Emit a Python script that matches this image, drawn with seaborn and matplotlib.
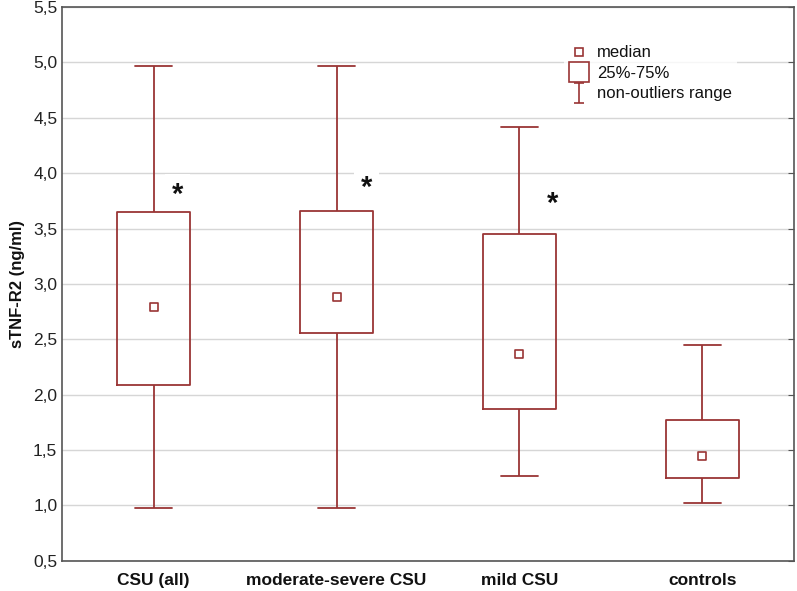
import numpy as np
import pandas as pd
import matplotlib
matplotlib.use("Agg")
import matplotlib.pyplot as plt
from matplotlib.lines import Line2D
from matplotlib.path import Path
from matplotlib.ticker import FuncFormatter, MultipleLocator
import seaborn as sns

groups = ["CSU (all)", "moderate-severe CSU", "mild CSU", "controls"]
low = [0.98, 0.98, 1.27, 1.02]
q1 = [2.09, 2.56, 1.87, 1.25]
median = [2.79, 2.88, 2.37, 1.45]
q3 = [3.65, 3.66, 3.45, 1.77]
high = [4.97, 4.97, 4.42, 2.45]
star_x = [0.13, 1.165, 2.18]
star_y = [3.80, 3.87, 3.72]

red = "#9a3535"

# five values per group -> quartiles land exactly on q1 / median / q3
rows = []
for g, a, b, c, d, e in zip(groups, low, q1, median, q3, high):
    for v in (a, b, c, d, e):
        rows.append({"group": g, "value": v})
df = pd.DataFrame(rows)

sns.set_style("white")
plt.rcParams["font.family"] = ["Liberation Sans", "DejaVu Sans"]
plt.rcParams["text.color"] = "#111111"
plt.rcParams["axes.labelcolor"] = "#111111"
plt.rcParams["xtick.labelcolor"] = "#111111"
plt.rcParams["ytick.labelcolor"] = "#222222"

fig = plt.figure(figsize=(7.97, 5.91), dpi=100)
ax = fig.add_axes([0.078, 0.051, 0.918, 0.937])

sns.boxplot(data=df, x="group", y="value", order=groups, fill=False, width=0.4,
            whis=(0, 100), color=red, linecolor=red, linewidth=1.3,
            medianprops={"visible": False}, ax=ax)
sns.scatterplot(x=groups, y=median, marker="s", s=28, color="white",
                edgecolor=red, linewidth=1.2, zorder=5, ax=ax)

# asterisks sit on a white patch that breaks the gridlines, but under the boxes
for x, y in zip(star_x, star_y):
    ax.text(x, y, "*", fontsize=21, fontweight="bold", ha="center", va="center",
            bbox=dict(facecolor="white", edgecolor="none", pad=5), zorder=1)

ax.set_xlim(-0.5, 3.5)
ax.set_ylim(0.5, 5.5)
ax.yaxis.set_major_locator(MultipleLocator(0.5))
ax.yaxis.set_major_formatter(FuncFormatter(lambda v, p: f"{v:.1f}".replace(".", ",")))
ax.yaxis.grid(True, color="#d6d6d6", linewidth=1, zorder=0.5)
ax.set_axisbelow(True)

ax.set_xlabel("")
ax.set_ylabel("sTNF-R2 (ng/ml)", fontsize=12, fontweight="bold", labelpad=6)
ax.tick_params(axis="x", direction="in", length=4, labelsize=12.5, pad=9, color="#555555")
ax.tick_params(axis="y", direction="in", length=4, labelsize=12.5, right=True, color="#555555")
for lab in ax.get_xticklabels():
    lab.set_fontweight("bold")
for s in ax.spines.values():
    s.set_color("#555555")
    s.set_linewidth(1.2)

ibeam = Path([(-0.5, 1), (0.5, 1), (0, 1), (0, -1), (-0.5, -1), (0.5, -1)],
             [Path.MOVETO, Path.LINETO, Path.MOVETO, Path.LINETO, Path.MOVETO, Path.LINETO])
handles = [
    Line2D([], [], ls="none", marker="s", ms=6, mfc="white", mec=red, mew=1.2),
    Line2D([], [], ls="none", marker="s", ms=15, mfc="white", mec=red, mew=1.2),
    Line2D([], [], ls="none", marker=ibeam, ms=15, mec=red, mew=1.2),
]
leg = ax.legend(handles, ["median", "25%-75%", "non-outliers range"], loc="upper left",
                bbox_to_anchor=(0.674, 0.955), frameon=True, fontsize=12, handlelength=1.2,
                handletextpad=0.5, labelspacing=0.33, borderpad=0.3)
leg.get_frame().set_facecolor("white")
leg.get_frame().set_edgecolor("none")

fig.savefig("out.png", dpi=100)
